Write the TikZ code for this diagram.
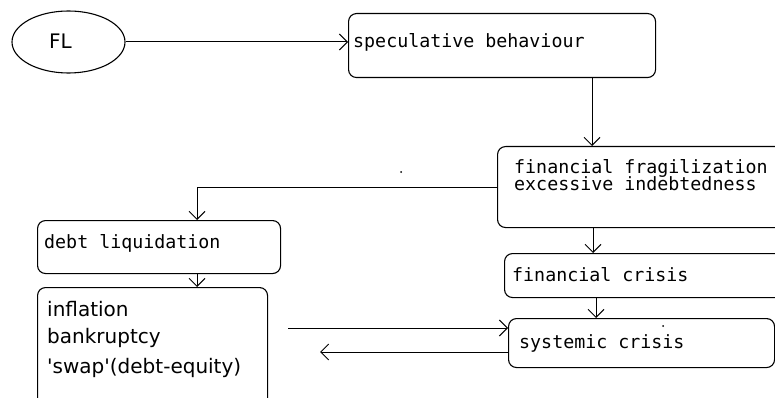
\documentclass[tikz,border=0pt]{standalone}
\usepackage{fontspec}
\setmainfont{DejaVu Sans}
\newfontfamily\monof{DejaVu Sans Mono}
\usetikzlibrary{shapes.geometric,arrows.meta}
\tikzset{
  box/.style={draw, rounded corners=8pt, inner sep=0pt, anchor=north west, line width=1.1pt},
  oval/.style={draw, ellipse, inner sep=0pt, line width=1.1pt},
  mlbl/.style={anchor=base west, inner sep=0pt, font=\monof\fontsize{18.3}{17}\selectfont},
  plbl/.style={anchor=base west, inner sep=0pt, font=\fontsize{20}{24}\selectfont},
  arr/.style={line width=1pt, -{Straight Barb[length=8pt,width=16pt,line width=1pt]}},
  link/.style={line width=1pt}
}
\begin{document}
\begin{tikzpicture}[x=1pt,y=-1pt]
\clip (0,0) rectangle (775,398);
\fill[white] (0,0) rectangle (775,398);
% shapes
\node[oval, minimum width=113pt, minimum height=62pt] (fl) at (68.5,42) {};
\node[plbl, anchor=base] (flt) at (60.5,49) {FL};
\node[box, minimum width=307pt, minimum height=64pt] (spec) at (348,13) {};
\node[box, minimum width=300pt, minimum height=81pt] (frag) at (497,146) {};
\node[box, minimum width=243pt, minimum height=53pt] (debt) at (37,220) {};
\node[box, minimum width=230pt, minimum height=130pt] (infl) at (37,287) {};
\node[box, minimum width=300pt, minimum height=44pt] (fcri) at (504,253) {};
\node[box, minimum width=266pt, minimum height=49pt] (syst) at (508,318) {};
% texts
\node[mlbl] (spect) at (353,48) {speculative behaviour};
\node[mlbl] (fragt1) at (514,173) {financial fragilization};
\node[mlbl] (fragt2) at (514,190) {excessive indebtedness};
\node[mlbl] (debtt) at (44,248) {debt liquidation};
\node[plbl] (inflt1) at (47,316) {inflation};
\node[plbl] (inflt2) at (47,343) {bankruptcy};
\node[plbl] (inflt3) at (47,373) {\textquotesingle swap\textquotesingle(debt-equity)};
\node[mlbl] (fcrit) at (512,281) {financial crisis};
\node[mlbl] (systt) at (519,348) {systemic crisis};
% helper coordinates
\coordinate (c1) at (592,0);
\coordinate (c2) at (197,0);
\coordinate (c3) at (593,0);
\coordinate (c4) at (596,0);
\coordinate (s1) at (288,328);
\coordinate (s2) at (320,352);
% connectors
\draw[arr] (fl.east) -- (fl.east -| spec.west);
\draw[arr] (c1 |- spec.south) -- (c1 |- frag.north);
\draw[arr] (frag.west) -| (c2 |- debt.north);
\draw[arr] (c2 |- debt.south) -- (c2 |- infl.north);
\draw[arr] (c3 |- frag.south) -- (c3 |- fcri.north);
\draw[arr] (c4 |- fcri.south) -- (c4 |- syst.north);
\draw[arr] (s1) -- (s1 -| syst.west);
\draw[arr] (s2 -| syst.west) -- (s2);
% stray dots
\fill (401,172) circle (1);
\fill (663,326) circle (1);
\end{tikzpicture}
\end{document}
